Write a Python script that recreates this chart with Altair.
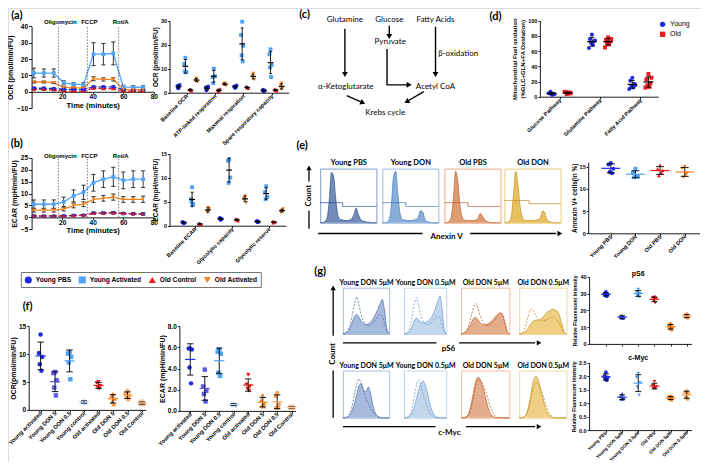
import json
import altair as alt
import pandas as pd

W, H = 693, 454


def X(x):
    return round((x - 3) * 0.985, 1)


def Y(y):
    return round((y - 4) * 0.985, 1)


FONT = "Liberation Sans"
DFONT = "Lato"

# ---------------------------------------------------------------- data
GROUPS4 = ["Young PBS", "Young Activated", "Old Control", "Old Activated"]
COL4 = ["#1B2BE8", "#4FA3F7", "#F01A1A", "#F7831F"]
SHP4 = ["circle", "square", "triangle-up", "triangle-down"]
DASH4 = [[3, 2], [1, 0], [3, 2], [1, 0]]

TIME = [1.5, 8, 14.5, 21, 27.5, 34, 40.5, 47, 53.5, 60, 66.5, 73]
INJ_NAMES = ["Oligomycin", "FCCP", "Rot/A"]
INJ_TIME = [17.5, 36.5, 57]

OCR_MEAN = {
    "Young PBS": [2.2, 2.2, 2.0, 1.5, 1.5, 1.5, 3.0, 3.0, 3.0, 1.5, 1.3, 1.2],
    "Young Activated": [11.5, 11.5, 11.5, 5.5, 4.6, 4.6, 23.0, 23.0, 23.5, 3.0, 2.8, 2.8],
    "Old Control": [1.5, 1.5, 1.2, 0.5, 0.4, 0.4, 2.2, 2.0, 2.0, 0.5, 0.3, 0.3],
    "Old Activated": [6.0, 6.0, 5.6, 2.8, 2.4, 2.4, 8.0, 7.6, 7.6, 1.5, 1.2, 1.2],
}
OCR_SD = {
    "Young PBS": [0.6, 0.6, 0.5, 0.4, 0.4, 0.4, 0.6, 0.6, 0.6, 0.4, 0.4, 0.4],
    "Young Activated": [3.0, 2.5, 2.5, 1.2, 1.0, 1.0, 7.0, 6.5, 7.0, 1.0, 1.0, 1.0],
    "Old Control": [0.4, 0.4, 0.4, 0.3, 0.3, 0.3, 0.5, 0.5, 0.5, 0.3, 0.3, 0.3],
    "Old Activated": [0.6, 0.6, 0.6, 0.5, 0.5, 0.5, 1.2, 1.0, 1.0, 0.4, 0.4, 0.4],
}
ECAR_MEAN = {
    "Young PBS": [0.5, 0.5, 0.5, 0.6, 0.8, 0.9, 1.8, 1.8, 1.9, 1.6, 1.5, 1.4],
    "Young Activated": [5.5, 5.5, 5.5, 6.5, 9.0, 10.5, 14.5, 16.0, 17.0, 15.5, 16.0, 16.0],
    "Old Control": [0.7, 0.6, 0.6, 0.6, 0.8, 0.9, 1.7, 1.8, 1.9, 1.7, 1.5, 1.5],
    "Old Activated": [3.0, 3.0, 3.0, 3.5, 5.0, 5.5, 7.5, 8.0, 8.5, 7.5, 7.5, 7.6],
}
ECAR_SD = {
    "Young PBS": [0.3, 0.3, 0.3, 0.3, 0.3, 0.3, 0.4, 0.4, 0.4, 0.4, 0.4, 0.4],
    "Young Activated": [1.8, 1.8, 1.8, 2.0, 2.5, 3.0, 3.5, 3.5, 4.0, 3.5, 3.5, 3.5],
    "Old Control": [0.3, 0.3, 0.3, 0.3, 0.3, 0.3, 0.4, 0.4, 0.4, 0.4, 0.4, 0.4],
    "Old Activated": [0.8, 0.8, 0.8, 0.8, 1.0, 1.0, 1.2, 1.2, 1.3, 1.2, 1.2, 1.3],
}

A_CATS = ["Baseline OCR", "ATP-linked respiration", "Maximal respiration", "Spare respiratory capacity"]
A_VALS = {
    "Young PBS": [[2.0, 2.8, 3.2, 1.8], [1.5, 2.2, 2.6, 1.0], [2.0, 2.6, 3.0, 2.2], [0.5, 1.0, 0.8, 1.3]],
    "Young Activated": [[14.5, 12.0, 8.5, 8.8], [10.0, 6.5, 6.8, 4.0], [29.5, 24.0, 19.5, 15.5, 13.0], [18.0, 16.0, 11.5, 10.5, 6.5]],
    "Old Control": [[1.0, 1.4, 0.8, 1.5], [0.8, 1.2, 1.6, 0.5], [2.0, 2.6, 1.8, 2.3], [1.0, 1.5, 0.8, 1.2]],
    "Old Activated": [[6.0, 5.0, 4.5, 5.5], [4.0, 3.5, 3.0, 3.8], [8.0, 7.0, 5.5, 6.5], [4.0, 3.0, 2.0, 1.5]],
}
B_CATS = ["Baseline ECAR", "Glycolytic capacity", "Glycolytic reserve"]
B_VALS = {
    "Young PBS": [[0.5, 0.8, 0.6, 0.7], [1.2, 1.5, 1.4, 1.6], [0.7, 0.9, 0.8, 1.0]],
    "Young Activated": [[8.0, 5.5, 4.5, 5.0, 4.3], [13.8, 13.5, 10.0, 8.9], [8.2, 7.0, 6.0, 5.5]],
    "Old Control": [[0.2, 0.4, 0.3, 0.5], [1.2, 1.4, 1.0, 1.3], [0.7, 0.9, 0.8, 0.6]],
    "Old Activated": [[3.8, 3.0, 3.5, 2.8], [6.2, 5.5, 4.8, 5.8], [3.2, 2.8, 3.5, 3.0]],
}
D_CATS = ["Glucose Pathway", "Glutamine Pathway", "Fatty Acid Pathway"]
D_GROUPS = ["Young", "Old"]
D_COLORS = ["#1B2BE8", "#F01A1A"]
D_VALS = {
    "Young": [[3, 5, 4, 6.5, 2.5, 4.5, 3.5], [82, 76, 73, 71, 68, 64, 74], [25, 21, 17, 14, 12, 10, 15]],
    "Old": [[4, 6, 5, 3.5, 5.5, 6.5, 4.5], [78, 75, 73, 71, 69, 65, 76], [30, 23, 18, 15, 13, 12, 25]],
}
E_CATS = ["Young PBS", "Young DON", "Old PBS", "Old DON"]
E_VALS = [[15.8, 15.5, 14.5, 13.8, 13.5], [14.5, 13.6, 12.8, 12.6, 12.9],
          [15.3, 14.5, 14.2, 13.0, 13.6], [15.0, 14.6, 13.6, 12.6, 13.2]]
F_CATS = ["Young activated", "Young DON 5", "Young DON 0.5", "Young control",
          "Old activated", "Old DON 5", "Old DON 0.5", "Old Control"]
F_COLORS = ["#1B2BE8", "#5C5CE6", "#4FA3F7", "#B5D3F3", "#F01A1A", "#F7831F", "#F7A45A", "#F9C9A0"]
F_SHAPES = ["circle", "square", "square", "triangle-up", "triangle-down", "triangle-up", "circle", "square"]
F_OCR = [[13.5, 10.2, 9.5, 8.2, 7.0], [6.8, 6.6, 5.3, 4.0, 2.6], [10.3, 10.1, 9.5, 8.5, 5.5],
         [1.7, 1.5, 1.3, 1.4, 1.2], [5.0, 4.8, 4.3, 4.0, 3.8], [2.9, 2.5, 2.0, 1.5, 1.0],
         [3.4, 3.0, 2.6, 2.3, 1.9], [1.5, 1.3, 1.1, 1.0, 1.2]]
F_ECAR = [[5.9, 5.9, 5.8, 4.1, 2.6], [3.9, 2.3, 1.9, 1.6, 0.9], [5.8, 5.6, 5.4, 3.6, 3.3],
          [0.7, 0.65, 0.5, 0.55, 0.6], [3.4, 2.5, 2.3, 2.1, 1.9], [1.5, 1.0, 0.7, 0.5, 0.4],
          [1.7, 1.4, 0.6, 0.3, 0.3], [0.4, 0.35, 0.3, 0.25, 0.3]]
G_CATS = ["Young PBS", "Young DON 5μM", "Young DON 0.5μM", "Old PBS", "Old DON 5μM", "Old DON 0.5μM"]
G_COLORS = ["#1B2BE8", "#2F45D8", "#4FA3F7", "#F01A1A", "#F7831F", "#F7A45A"]
G_SHAPES = ["circle", "triangle-up", "triangle-down", "triangle-down", "circle", "circle"]
G_PS6 = [[31.0, 30.0, 29.5, 29.0, 28.5], [17.0, 16.5, 16.0, 15.5, 15.2], [32.5, 31.0, 30.0, 29.0, 28.0],
         [28.0, 27.5, 27.0, 26.0, 24.5], [12.0, 11.0, 10.0, 9.5, 8.5], [18.0, 17.0, 16.5, 16.0, 15.5]]
G_MYC = [[2.15, 2.0, 1.95, 1.9, 1.85], [1.35, 1.25, 1.2, 1.15, 1.15], [2.1, 1.95, 1.75, 1.6, 1.3],
         [1.8, 1.65, 1.6, 1.55, 1.55], [1.25, 1.22, 1.2, 1.15, 1.12], [1.45, 1.4, 1.35, 1.2, 1.15]]

# flow cytometry histograms (e)
E_TITLES = ["Young PBS", "Young DON", "Old PBS", "Old DON"]
E_HIST = [
    [0, 0, 0.02, 0.08, 0.4, 0.93, 0.85, 0.4, 0.12, 0.06, 0.05, 0.04, 0.04, 0.05, 0.07, 0.15, 0.27, 0.15, 0.06, 0.03, 0.02, 0.01, 0.01, 0, 0, 0],
    [0, 0, 0.01, 0.05, 0.3, 0.85, 0.95, 0.5, 0.15, 0.06, 0.05, 0.04, 0.04, 0.04, 0.05, 0.06, 0.1, 0.22, 0.2, 0.06, 0.02, 0.01, 0, 0, 0, 0],
    [0, 0, 0.02, 0.1, 0.45, 0.95, 0.75, 0.3, 0.1, 0.05, 0.04, 0.04, 0.04, 0.04, 0.05, 0.08, 0.17, 0.12, 0.05, 0.02, 0.01, 0, 0, 0, 0, 0],
    [0, 0, 0.02, 0.1, 0.5, 0.95, 0.7, 0.3, 0.1, 0.05, 0.04, 0.04, 0.04, 0.04, 0.05, 0.06, 0.1, 0.22, 0.18, 0.05, 0.02, 0.01, 0, 0, 0, 0],
]
E_GATE_SPLIT = [0.4, 0.42, 0.42, 0.44]
E_GATE_LEFT = [0.37, 0.37, 0.37, 0.41]
E_GATE_RIGHT = [0.3, 0.3, 0.3, 0.35]

# flow cytometry histograms (g)
G_TITLES = ["Young DON 5μM", "Young DON 0.5μM", "Old DON 5μM", "Old DON 0.5μM"]
G_PS6_FILL = [
    [0, 0.02, 0.05, 0.12, 0.25, 0.38, 0.42, 0.36, 0.27, 0.22, 0.2, 0.22, 0.26, 0.32, 0.42, 0.52, 0.64, 0.75, 0.5, 0.1, 0.01],
    [0, 0.01, 0.03, 0.08, 0.18, 0.3, 0.34, 0.3, 0.26, 0.24, 0.25, 0.27, 0.3, 0.36, 0.45, 0.58, 0.7, 0.82, 0.55, 0.12, 0.01],
    [0, 0.02, 0.05, 0.12, 0.22, 0.32, 0.36, 0.3, 0.24, 0.2, 0.2, 0.22, 0.25, 0.3, 0.36, 0.42, 0.46, 0.42, 0.25, 0.06, 0],
    [0, 0.01, 0.03, 0.07, 0.14, 0.22, 0.28, 0.3, 0.3, 0.32, 0.36, 0.42, 0.48, 0.5, 0.54, 0.52, 0.5, 0.4, 0.22, 0.05, 0],
]
G_PS6_CTRL = [
    [0, 0.02, 0.06, 0.18, 0.4, 0.65, 0.8, 0.62, 0.4, 0.27, 0.2, 0.18, 0.2, 0.24, 0.3, 0.36, 0.42, 0.38, 0.22, 0.06, 0],
    [0, 0.02, 0.06, 0.18, 0.42, 0.68, 0.78, 0.6, 0.4, 0.28, 0.22, 0.2, 0.22, 0.25, 0.3, 0.35, 0.38, 0.35, 0.2, 0.05, 0],
    [0, 0.02, 0.06, 0.16, 0.35, 0.55, 0.66, 0.55, 0.38, 0.26, 0.2, 0.18, 0.2, 0.24, 0.3, 0.36, 0.42, 0.45, 0.3, 0.08, 0],
    [0, 0.02, 0.08, 0.22, 0.42, 0.55, 0.5, 0.4, 0.32, 0.28, 0.28, 0.3, 0.32, 0.34, 0.36, 0.34, 0.3, 0.22, 0.12, 0.03, 0],
]
G_MYC_FILL = [
    [0, 0, 0.02, 0.06, 0.15, 0.3, 0.5, 0.68, 0.72, 0.58, 0.55, 0.65, 0.5, 0.25, 0.1, 0.04, 0.01, 0, 0, 0, 0],
    [0, 0, 0.02, 0.05, 0.12, 0.25, 0.42, 0.6, 0.72, 0.78, 0.7, 0.55, 0.35, 0.18, 0.08, 0.03, 0.01, 0, 0, 0, 0],
    [0, 0, 0.02, 0.08, 0.25, 0.5, 0.75, 0.86, 0.8, 0.65, 0.45, 0.25, 0.1, 0.04, 0.01, 0, 0, 0, 0, 0, 0],
    [0, 0, 0.02, 0.08, 0.25, 0.52, 0.78, 0.88, 0.8, 0.62, 0.42, 0.22, 0.1, 0.04, 0.01, 0, 0, 0, 0, 0, 0],
]
G_MYC_CTRL = [
    [0, 0, 0.03, 0.1, 0.25, 0.5, 0.72, 0.82, 0.7, 0.55, 0.4, 0.3, 0.2, 0.12, 0.06, 0.02, 0, 0, 0, 0, 0],
    [0, 0, 0.03, 0.1, 0.25, 0.48, 0.7, 0.8, 0.68, 0.5, 0.35, 0.22, 0.12, 0.06, 0.02, 0, 0, 0, 0, 0, 0],
    [0, 0, 0.02, 0.06, 0.18, 0.4, 0.65, 0.8, 0.78, 0.7, 0.58, 0.42, 0.25, 0.12, 0.05, 0.01, 0, 0, 0, 0, 0],
    [0, 0, 0.02, 0.06, 0.2, 0.42, 0.62, 0.74, 0.7, 0.6, 0.48, 0.32, 0.18, 0.08, 0.03, 0, 0, 0, 0, 0, 0],
]

# pathway diagram (c)
NODE_TEXT = ["Glutamine", "Glucose", "Pyruvate", "Fatty Acids", "α-Ketoglutarate", "Acetyl CoA", "Krebs cycle", "β-oxidation"]
NODE_COL = [0, 0.98, 1.0, 2, 0.02, 2, 0.89, 2.5]
NODE_ROW = [0, 0, 0.97, 0, 2.86, 2.86, 4, 1.45]
ARROW_PATHS = [
    [(0, 0.38), (0, 2.3)],
    [(0.98, 0.25), (0.98, 0.68)],
    [(0.93, 1.25), (0.93, 2.78), (1.4, 2.78)],
    [(2, 0.3), (2, 2.3)],
    [(0.04, 3.24), (0.38, 3.53)],
    [(1.74, 3.07), (1.38, 3.48)],
]
ARROW_HEAD_ANGLE = [180, 180, 90, 180, 114, 240]

JIT = [0, -1, 1, -0.5, 0.5, -1.5, 1.5, 0.25, -0.25]


# ---------------------------------------------------------------- helpers
def axis_kw(**kw):
    base = dict(grid=False, domainColor="black", domainWidth=0.9, tickColor="black", tickWidth=0.9, tickSize=3,
                labelFont=FONT, labelFontSize=6, labelFontWeight="bold", labelColor="black", labelPadding=1,
                labelFlush=False, labelOverlap=False,
                titleFont=FONT, titleFontSize=7, titleFontWeight="bold", titleColor="black", titlePadding=3)
    base.update(kw)
    return alt.Axis(**base)


def left_axis(xref, **kw):
    return axis_kw(orient="left", offset=-X(xref), **kw)


def bottom_axis(yref, **kw):
    return axis_kw(orient="bottom", offset=round(Y(yref) - H, 1), **kw)


def ann_layers(xs, ys, segs=None, heads=None, texts=None, sw=1.3, font=DFONT, weight="bold", noaxis=True):
    out = []
    ak = {"axis": None} if noaxis else {}
    if segs:
        sdf = pd.DataFrame(segs, columns=["x", "y", "x2", "y2"])
        out.append(alt.Chart(sdf).mark_rule(color="black", strokeWidth=sw).encode(
            x=alt.X("x:Q", scale=xs, **ak), y=alt.Y("y:Q", scale=ys, **ak),
            x2="x2:Q", y2="y2:Q"))
    if heads:
        hdf = pd.DataFrame(heads, columns=["x", "y", "ang"])
        out.append(alt.Chart(hdf).mark_point(shape="triangle", filled=True, size=28, color="black", opacity=1).encode(
            x=alt.X("x:Q", scale=xs, **ak), y=alt.Y("y:Q", scale=ys, **ak),
            angle=alt.Angle("ang:Q", scale=None)))
    if texts:
        tdf = pd.DataFrame(texts, columns=["x", "y", "label", "ang", "size"])
        out.append(alt.Chart(tdf).mark_text(font=font, fontWeight=weight, color="black", baseline="middle").encode(
            x=alt.X("x:Q", scale=xs, **ak), y=alt.Y("y:Q", scale=ys, **ak),
            text="label:N", angle=alt.Angle("ang:Q", scale=None), size=alt.Size("size:Q", scale=None)))
    return out


def line_panel(means, sds, xr, yr, ydom, yticks, ytitle, zero_ref, inj_y, letter):
    rows = []
    for g in GROUPS4:
        for t, m, s in zip(TIME, means[g], sds[g]):
            rows.append({"ser": g, "t": t, "m": m, "lo": m - s, "hi": m + s, "cl": t - 1.4, "cr": t + 1.4})
    df = pd.DataFrame(rows)
    xs = alt.Scale(domain=[0, 80], range=[X(xr[0]), X(xr[1])], nice=False, zero=False)
    ys = alt.Scale(domain=ydom, range=[Y(yr[1]), Y(yr[0])], nice=False, zero=False)
    cs = alt.Scale(domain=GROUPS4, range=COL4)
    ss = alt.Scale(domain=GROUPS4, range=SHP4)
    ds = alt.Scale(domain=GROUPS4, range=DASH4)
    inj = pd.DataFrame({"t": INJ_TIME, "name": INJ_NAMES})
    line = alt.Chart(df).mark_line(strokeWidth=1.3).encode(
        x=alt.X("t:Q", scale=xs, axis=bottom_axis(zero_ref, values=[20, 40, 60, 80], title="Time (minutes)",
                                                   titleFontSize=7.5, labelFontSize=6.5, tickSize=2,
                                                   labelPadding=0, titlePadding=1)),
        y=alt.Y("m:Q", scale=ys, axis=left_axis(xr[0], values=yticks, title=ytitle, labelFontSize=6.5,
                                                 titleFontSize=7)),
        color=alt.Color("ser:N", scale=cs, legend=None),
        strokeDash=alt.StrokeDash("ser:N", scale=ds, legend=None))
    vlines = alt.Chart(inj).mark_rule(color="#555555", strokeDash=[1.5, 1.5], strokeWidth=0.8).encode(
        x=alt.X("t:Q", scale=xs), y=alt.YDatum(0, scale=ys), y2=alt.Y2Datum(ydom[1]))
    vtext = alt.Chart(inj).mark_text(font=FONT, fontWeight="bold", fontSize=6, dx=2, color="black").encode(
        x=alt.X("t:Q", scale=xs), y=alt.YDatum(inj_y, scale=ys), text="name:N")
    err = alt.Chart(df).mark_rule(color="#222222", strokeWidth=0.9).encode(
        x=alt.X("t:Q", scale=xs), y=alt.Y("lo:Q", scale=ys), y2="hi:Q")
    caplo = alt.Chart(df).mark_rule(color="#222222", strokeWidth=0.9).encode(
        x=alt.X("cl:Q", scale=xs), x2="cr:Q", y=alt.Y("lo:Q", scale=ys))
    caphi = alt.Chart(df).mark_rule(color="#222222", strokeWidth=0.9).encode(
        x=alt.X("cl:Q", scale=xs), x2="cr:Q", y=alt.Y("hi:Q", scale=ys))
    pts = alt.Chart(df).mark_point(filled=True, size=14, opacity=1).encode(
        x=alt.X("t:Q", scale=xs), y=alt.Y("m:Q", scale=ys),
        color=alt.Color("ser:N", scale=cs, legend=None),
        shape=alt.Shape("ser:N", scale=ss, legend=None))
    extra = ann_layers(xs, ys, texts=[letter], noaxis=False)
    return alt.layer(line, vlines, vtext, err, caplo, caphi, pts, *extra)


def strip_panel(records, groups, colors, shapes, cats, xr, yr, xdom, ydom, yticks, ytitle,
                spread, mean_half, cap_half, mean_colored, psize=16, yfmt=None, legend=None,
                show_xlabels=True, xlabel_size=5.5, ytitle_size=6.5, ylabel_size=5.5, extra=None):
    rows = []
    for g, xc, vals in records:
        for pi, v in enumerate(vals):
            rows.append({"grp": g, "v": v, "xc": xc, "xp": xc + JIT[pi] * spread})
    df = pd.DataFrame(rows)
    xs = alt.Scale(domain=xdom, range=[X(xr[0]), X(xr[1])], nice=False, zero=False)
    ys = alt.Scale(domain=ydom, range=[Y(yr[1]), Y(yr[0])], nice=False, zero=False)
    cs = alt.Scale(domain=groups, range=colors)
    ss = alt.Scale(domain=groups, range=shapes)
    xkw = dict(values=list(range(len(cats))), title=None, labelAngle=315, labelAlign="right",
               labelBaseline="middle", labelFontSize=xlabel_size, tickSize=2, labelPadding=0)
    if show_xlabels:
        xkw["labelExpr"] = json.dumps(cats, ensure_ascii=False) + "[datum.value]"
    else:
        xkw["labels"] = False
    ykw = dict(values=yticks, title=ytitle, titleFontSize=ytitle_size, labelFontSize=ylabel_size,
               tickSize=2, titlePadding=2)
    if yfmt:
        ykw["format"] = yfmt
    pts = alt.Chart(df).mark_point(filled=True, size=psize, opacity=1).encode(
        x=alt.X("xp:Q", scale=xs, axis=bottom_axis(yr[1], **xkw)),
        y=alt.Y("v:Q", scale=ys, axis=left_axis(xr[0], **ykw)),
        color=alt.Color("grp:N", scale=cs, legend=legend),
        shape=alt.Shape("grp:N", scale=ss, legend=legend))
    st = alt.Chart(df).transform_aggregate(
        m="mean(v)", s="stdev(v)", groupby=["grp", "xc"]
    ).transform_calculate(
        lo="datum.m - datum.s", hi="datum.m + datum.s",
        ml=f"datum.xc - {mean_half}", mr=f"datum.xc + {mean_half}",
        cl=f"datum.xc - {cap_half}", cr=f"datum.xc + {cap_half}")
    sd = st.mark_rule(color="black", strokeWidth=0.9).encode(
        x=alt.X("xc:Q", scale=xs), y=alt.Y("lo:Q", scale=ys), y2="hi:Q")
    c1 = st.mark_rule(color="black", strokeWidth=0.9).encode(
        x=alt.X("cl:Q", scale=xs), x2="cr:Q", y=alt.Y("lo:Q", scale=ys))
    c2 = st.mark_rule(color="black", strokeWidth=0.9).encode(
        x=alt.X("cl:Q", scale=xs), x2="cr:Q", y=alt.Y("hi:Q", scale=ys))
    if mean_colored:
        mn = st.mark_rule(strokeWidth=1.2).encode(
            x=alt.X("ml:Q", scale=xs), x2="mr:Q", y=alt.Y("m:Q", scale=ys),
            color=alt.Color("grp:N", scale=cs, legend=None))
    else:
        mn = st.mark_rule(color="black", strokeWidth=1.2).encode(
            x=alt.X("ml:Q", scale=xs), x2="mr:Q", y=alt.Y("m:Q", scale=ys))
    layers = [pts, sd, c1, c2, mn]
    if extra:
        layers += extra(xs, ys)
    return alt.layer(*layers)


def hist_panel(xr, yr, curve, fill, edge, frame, title, ox, oy, odash, ocolor, ointerp,
               title_size=7.5, fill_op=0.8, extra=None):
    n = len(curve)
    df = pd.DataFrame({"x": [i / (n - 1) for i in range(n)], "y": curve})
    df["b"] = 0.0
    xs = alt.Scale(domain=[0, 1], range=[X(xr[0]), X(xr[1])], nice=False, zero=False)
    ys = alt.Scale(domain=[0, 1], range=[Y(yr[1]), Y(yr[0])], nice=False, zero=False)
    fkw = dict(labels=False, ticks=False, title=None, domainColor=frame, domainWidth=0.9, grid=False)
    area = alt.Chart(df).mark_area(color=fill, fillOpacity=fill_op, interpolate="monotone",
                                   line={"color": edge, "strokeWidth": 0.7}).encode(
        x=alt.X("x:Q", scale=xs, axis=alt.Axis(orient="bottom", offset=round(Y(yr[1]) - H, 1), **fkw)),
        y=alt.Y("y:Q", scale=ys, axis=alt.Axis(orient="left", offset=-X(xr[0]), **fkw)),
        y2="b:Q")
    odf = pd.DataFrame({"x": ox, "y": oy, "i": list(range(len(ox)))})
    over = alt.Chart(odf).mark_line(color=ocolor, strokeDash=odash, strokeWidth=0.8, interpolate=ointerp).encode(
        x=alt.X("x:Q", scale=xs, axis=alt.Axis(
            orient="top", offset=round(-Y(yr[0]), 1), labels=False, ticks=False, title=title,
            titleFont=DFONT, titleFontSize=title_size, titleFontWeight="bold", titleColor="black",
            titlePadding=2, domainColor=frame, domainWidth=0.9, grid=False)),
        y=alt.Y("y:Q", scale=ys, axis=alt.Axis(orient="right", offset=round(X(xr[1]) - W, 1), **fkw)),
        order="i:Q")
    layers = [area, over]
    if extra:
        layers += extra(xs, ys)
    return alt.layer(*layers)


# ---------------------------------------------------------------- panels
panels = []

# (a) OCR kinetics
panels.append(line_panel(OCR_MEAN, OCR_SD, (27, 151), (22.7, 105.7), [-10, 40],
                         [-10, 0, 10, 20, 30, 40], "OCR (pmol/min/FU)", 89.1, 42.6,
                         (-9.7, 46.4, "(a)", 0, 11)))
# (b) ECAR kinetics
panels.append(line_panel(ECAR_MEAN, ECAR_SD, (27, 151), (156, 228.7), [-5, 25],
                         [-5, 0, 5, 10, 15, 20, 25], "ECAR (mpH/min/FU)", 216.6, 25.6,
                         (-9.7, 30.8, "(b)", 0, 11)))

LEG4 = alt.Legend(orient="none", legendX=X(16), legendY=Y(272), direction="horizontal", title=None,
                  strokeColor="#777777", padding=3, labelFont=FONT, labelFontSize=6.6,
                  labelFontWeight="bold", labelColor="black", symbolSize=50, columnPadding=6,
                  labelOffset=3, fillColor="white")
OFF4 = [-0.28, -0.04, 0.14, 0.35]
OFF4B = [-0.31, -0.08, 0.13, 0.35]

recs = [(g, ci + OFF4[gi], A_VALS[g][ci]) for gi, g in enumerate(GROUPS4) for ci in range(len(A_CATS))]
panels.append(strip_panel(recs, GROUPS4, COL4, SHP4, A_CATS, (167, 288), (16.7, 90), [-0.6, 3.6], [0, 30],
                          [0, 10, 20, 30], "OCR (pmol/min/FU)", 0.04, 0.1, 0.05, False, psize=15,
                          legend=LEG4))
recs = [(g, ci + OFF4B[gi], B_VALS[g][ci]) for gi, g in enumerate(GROUPS4) for ci in range(len(B_CATS))]
panels.append(strip_panel(recs, GROUPS4, COL4, SHP4, B_CATS, (167, 285), (151.7, 225), [-0.69, 2.45], [0, 15],
                          [0, 5, 10, 15], "ECAR (mpH/min/FU)", 0.03, 0.08, 0.04, False, psize=15,
                          legend=None))

# (c) pathway diagram
dxs = alt.Scale(domain=[0, 2], range=[X(345), X(437)], nice=False, zero=False)
dys = alt.Scale(domain=[0, 4], range=[Y(16), Y(111)], nice=False, zero=False)
ndf = pd.DataFrame({"name": NODE_TEXT, "col": NODE_COL, "row": NODE_ROW})
nodes = alt.Chart(ndf).mark_text(font=DFONT, fontSize=8, color="black").encode(
    x=alt.X("col:Q", scale=dxs, axis=None), y=alt.Y("row:Q", scale=dys, axis=None), text="name:N")
arows = []
for ai, path in enumerate(ARROW_PATHS):
    for pi, (c, r) in enumerate(path):
        arows.append({"a": ai, "k": pi, "col": c, "row": r})
adf = pd.DataFrame(arows)
alines = alt.Chart(adf).mark_line(color="black", strokeWidth=1.4).encode(
    x=alt.X("col:Q", scale=dxs, axis=None), y=alt.Y("row:Q", scale=dys, axis=None),
    detail="a:N", order="k:Q")
hdf = pd.DataFrame({"col": [p[-1][0] for p in ARROW_PATHS], "row": [p[-1][1] for p in ARROW_PATHS],
                    "ang": ARROW_HEAD_ANGLE})
aheads = alt.Chart(hdf).mark_point(shape="triangle", filled=True, size=34, color="black", opacity=1).encode(
    x=alt.X("col:Q", scale=dxs, axis=None), y=alt.Y("row:Q", scale=dys, axis=None),
    angle=alt.Angle("ang:Q", scale=None))
panels.append(alt.layer(alines, aheads, nodes,
                        *ann_layers(dxs, dys, texts=[(-0.89, -0.2, "(c)", 0, 11)])))

# (d) fuel oxidation
LEGD = alt.Legend(orient="none", legendX=X(664), legendY=Y(17), title=None, labelFont=FONT,
                  labelFontSize=7, labelColor="black", symbolSize=28, rowPadding=2, padding=0)
recs = [(g, ci + [-0.2, 0.2][gi], D_VALS[g][ci]) for gi, g in enumerate(D_GROUPS) for ci in range(len(D_CATS))]
panels.append(strip_panel(
    recs, D_GROUPS, D_COLORS, ["circle", "square"], D_CATS, (543, 663), (17, 94), [-0.49, 2.44], [0, 100],
    [0, 20, 40, 60, 80, 100], ["Mitochondrial Fuel oxidation", "(%GLC+GLN+FA Oxidation)"],
    0.05, 0.12, 0.06, False, psize=16, legend=LEGD, ytitle_size=6,
    extra=lambda xs, ys: ann_layers(xs, ys, texts=[(-1.59, 104.5, "(d)", 0, 11)], noaxis=False)))

# (e) annexin histograms
E_X = [(320, 377), (383, 440), (446, 503), (507, 564)]
E_FILL = ["#4F6FA8", "#6A9AD0", "#D7824F", "#E3B03A"]
E_EDGE = ["#2F4F88", "#3F78B8", "#B8602E", "#C09020"]
E_FRAME = ["#6F8FC5", "#8DB3DD", "#E6A27A", "#EAC766"]


def e_extra(xs, ys):
    return ann_layers(
        xs, ys,
        segs=[(-0.2, -0.11, -0.2, 0.22), (-0.2, 0.76, -0.2, 0.97), (-0.035, -0.2, 1.82, -0.2),
              (2.67, -0.2, 4.2, -0.2)],
        heads=[(-0.2, 1.0, 0), (4.25, -0.2, 90)],
        texts=[(-0.2, 0.5, "Count", 270, 8), (2.25, -0.27, "Anexin V", 0, 8), (-0.32, 1.42, "(e)", 0, 11)])


for k in range(4):
    s = E_GATE_SPLIT[k]
    panels.append(hist_panel(E_X[k], (167, 222), E_HIST[k], E_FILL[k], E_EDGE[k], E_FRAME[k], E_TITLES[k],
                             [0, s, s, 1], [E_GATE_LEFT[k], E_GATE_LEFT[k], E_GATE_RIGHT[k], E_GATE_RIGHT[k]],
                             [1, 0], E_EDGE[k], "linear", title_size=7.5,
                             extra=e_extra if k == 0 else None))

recs = [(c, ci, E_VALS[ci]) for ci, c in enumerate(E_CATS)]
panels.append(strip_panel(recs, E_CATS, COL4, SHP4, E_CATS, (592, 705), (160.5, 232.7), [-0.92, 3.6], [0, 16],
                          [0, 5, 10, 15], "Annexin V+ cells(in %)", 0.1, 0.38, 0.16, True, psize=16))

# (f) DON treatment
recs = [(c, ci, F_OCR[ci]) for ci, c in enumerate(F_CATS)]
panels.append(strip_panel(
    recs, F_CATS, F_COLORS, F_SHAPES, F_CATS, (24, 143), (327, 412), [-0.82, 7.27], [0, 15],
    [0, 5, 10, 15], "OCR(pmol/min/FU)", 0.11, 0.35, 0.22, True, psize=20, xlabel_size=5.8,
    ytitle_size=7, ylabel_size=6.5,
    extra=lambda xs, ys: ann_layers(xs, ys, texts=[(-0.89, 18.5, "(f)", 0, 11)], noaxis=False)))
recs = [(c, ci, F_ECAR[ci]) for ci, c in enumerate(F_CATS)]
panels.append(strip_panel(
    recs, F_CATS, F_COLORS, F_SHAPES, F_CATS, (177, 295), (327, 413), [-0.75, 7.27], [0, 8],
    [0, 2, 4, 6, 8], "ECAR (mpH/min/FU)", 0.11, 0.35, 0.22, True, psize=20, xlabel_size=5.8,
    ytitle_size=7, ylabel_size=6.5))

# (g) pS6 / c-Myc histograms
G_X = [(343, 390), (405, 448), (463, 512), (522, 570)]
G_FILL = ["#7F9DCD", "#A8C4E4", "#D98A5A", "#E8BA4E"]
G_EDGE = ["#4F6FA8", "#6F9AD0", "#B8622E", "#C09020"]
G_FRAME = ["#9FB5DA", "#B9D0EA", "#EDB594", "#F0D48A"]
GRID21 = [i / 20 for i in range(21)]


def g_extra(xs, ys):
    return ann_layers(
        xs, ys,
        segs=[(-0.21, -0.04, -0.21, 0.95), (-0.21, -0.79, -0.21, -1.81),
              (0, -0.19, 2.02, -0.19), (2.51, -0.19, 4.15, -0.19),
              (0, -2.0, 2.0, -2.0), (2.66, -2.0, 4.15, -2.0)],
        heads=[(-0.21, 0.98, 0), (4.22, -0.19, 90), (4.22, -2.0, 90)],
        texts=[(-0.21, -0.43, "Count", 270, 8), (2.28, -0.33, "pS6", 0, 8), (2.3, -2.14, "c-Myc", 0, 8),
               (-0.49, 1.34, "(g)", 0, 11)])


for k in range(4):
    panels.append(hist_panel(G_X[k], (288, 335), G_PS6_FILL[k], G_FILL[k], G_EDGE[k], G_FRAME[k], G_TITLES[k],
                             GRID21, G_PS6_CTRL[k], [2, 1.5], G_EDGE[k], "monotone", title_size=7,
                             fill_op=0.7, extra=g_extra if k == 0 else None))
    panels.append(hist_panel(G_X[k], (372, 420), G_MYC_FILL[k], G_FILL[k], G_EDGE[k], G_FRAME[k], G_TITLES[k],
                             GRID21, G_MYC_CTRL[k], [2, 1.5], G_EDGE[k], "monotone", title_size=7,
                             fill_op=0.7))

recs = [(c, ci, G_PS6[ci]) for ci, c in enumerate(G_CATS)]
panels.append(strip_panel(
    recs, G_CATS, G_COLORS, G_SHAPES, G_CATS, (593, 697), (277, 345), [-1.04, 5.3], [0, 40],
    [0, 10, 20, 30, 40], "Relative Fluorescent Intensity", 0.1, 0.3, 0.18, True, psize=14,
    show_xlabels=False, ytitle_size=5, ylabel_size=5.5,
    extra=lambda xs, ys: ann_layers(xs, ys, texts=[(2.0, 41.8, "pS6", 0, 7)], font=FONT, noaxis=False)))
recs = [(c, ci, G_MYC[ci]) for ci, c in enumerate(G_CATS)]
panels.append(strip_panel(
    recs, G_CATS, G_COLORS, G_SHAPES, G_CATS, (593, 697), (364, 432.5), [-1.04, 5.3], [0, 2.5],
    [0, 0.5, 1, 1.5, 2, 2.5], "Relative Fluorescent Intensity", 0.1, 0.3, 0.18, True, psize=14,
    yfmt=".1f", ytitle_size=5, ylabel_size=5.5, xlabel_size=4.6,
    extra=lambda xs, ys: ann_layers(xs, ys, texts=[(2.0, 2.66, "c-Myc", 0, 7)], font=FONT, noaxis=False)))

chart = alt.layer(*panels).resolve_scale(
    x="independent", y="independent", color="independent", shape="independent", strokeDash="independent"
).resolve_legend(color="independent", shape="independent").properties(
    width=W, height=H, padding=0, autosize=alt.AutoSizeParams(type="none")
).configure_view(strokeWidth=0).configure(font=FONT)

chart.save("out.html", embed_options={"renderer": "svg", "actions": False})
